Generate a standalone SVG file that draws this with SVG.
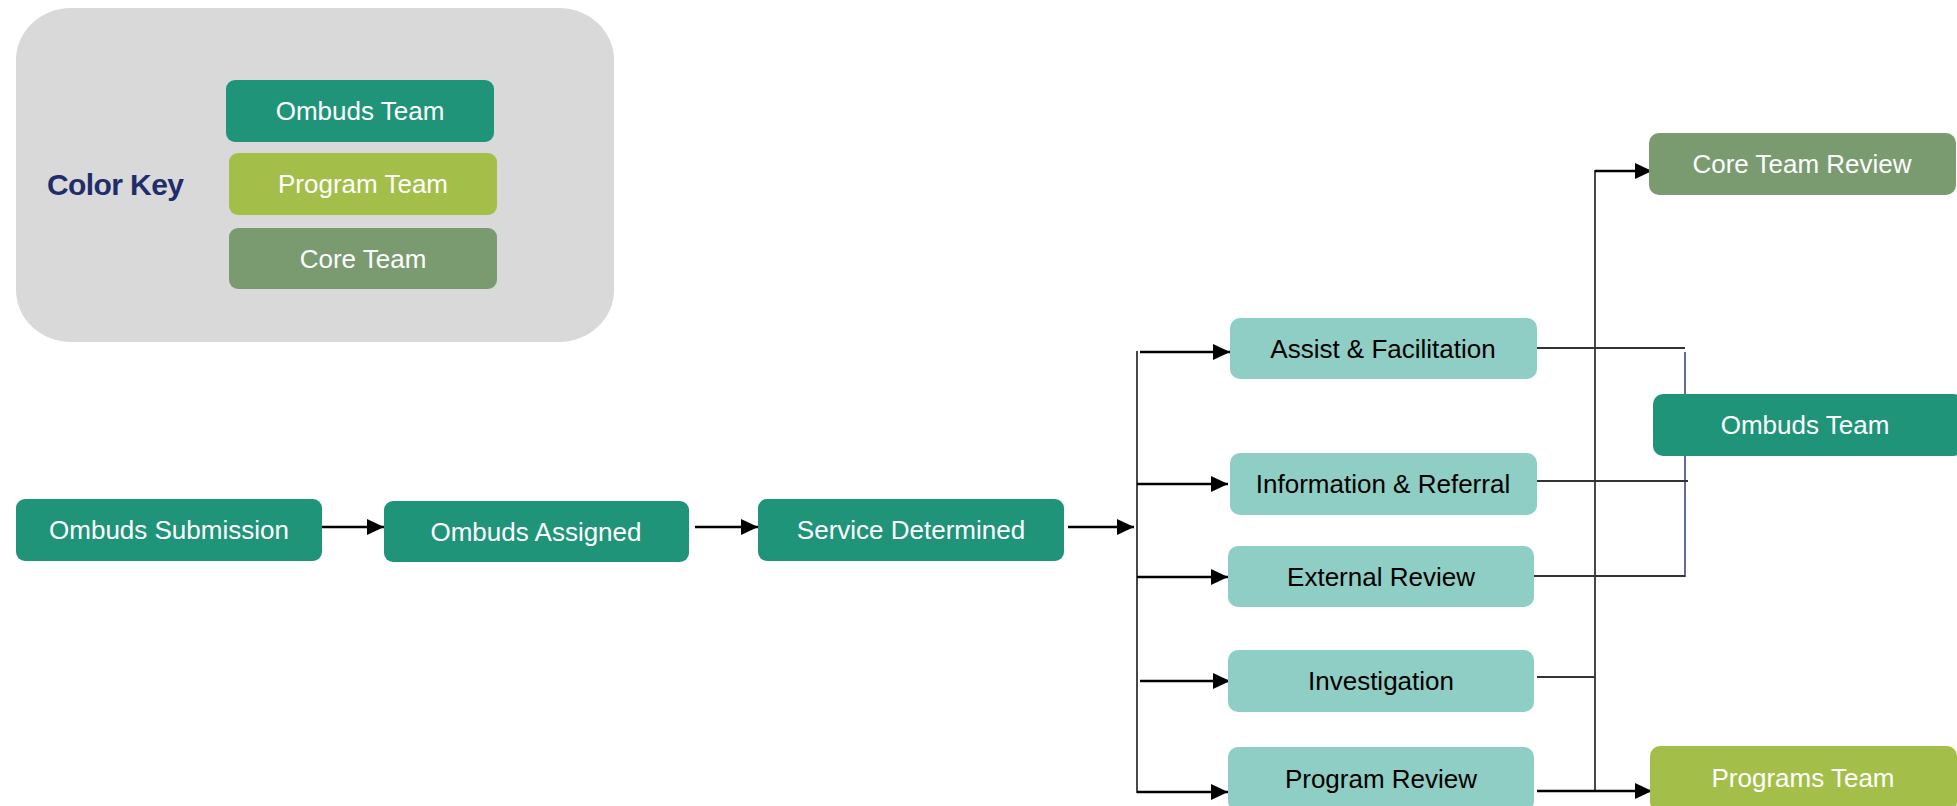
<svg xmlns="http://www.w3.org/2000/svg" width="1957" height="806" viewBox="0 0 1957 806">
<defs>
<marker id="ah" markerUnits="userSpaceOnUse" markerWidth="18" markerHeight="16" refX="17" refY="8" orient="auto"><path d="M0,0 L17,8 L0,16 Z" fill="#000"/></marker>
<style>
.dk{fill:#1F9479}.pg{fill:#A3BF4A}.ct{fill:#7A9B70}.lt{fill:#8ECEC4}
.tw{font-family:"Liberation Sans",Arial,sans-serif;font-size:26px;fill:#fff;text-anchor:middle}
.tb{font-family:"Liberation Sans",Arial,sans-serif;font-size:26px;fill:#000;text-anchor:middle}
.ar{stroke:#000;stroke-width:2.5;fill:none;marker-end:url(#ah)}
.ln{stroke:#333;stroke-width:1.8;fill:none}
.nv{stroke:#2E3A7A;stroke-width:1.5;fill:none}
</style>
</defs>
<g id="color-key">
<rect x="16" y="8" width="598" height="334" rx="55" ry="52" fill="#D9D9D9"/>
<text x="47" y="195" font-family="Liberation Sans,Arial,sans-serif" font-size="30" font-weight="bold" letter-spacing="-0.6" fill="#1F2D6B">Color Key</text>
</g>
<g id="key-ombuds"><rect class="dk" x="226" y="80" width="268" height="62" rx="9"/><text class="tw" x="360" y="120">Ombuds Team</text></g>
<g id="key-program"><rect class="pg" x="229" y="153" width="268" height="62" rx="9"/><text class="tw" x="363" y="193">Program Team</text></g>
<g id="key-core"><rect class="ct" x="229" y="228" width="268" height="61" rx="9"/><text class="tw" x="363" y="268">Core Team</text></g>

<g id="connectors">
<line class="ar" x1="322" y1="527" x2="384" y2="527"/>
<line class="ar" x1="695" y1="527" x2="758" y2="527"/>
<line class="ar" x1="1068" y1="527" x2="1134" y2="527"/>
<line class="ln" x1="1137" y1="351" x2="1137" y2="793"/>
<line class="ar" x1="1140" y1="352" x2="1230" y2="352"/>
<line class="ar" x1="1137" y1="484" x2="1228" y2="484"/>
<line class="ar" x1="1137" y1="577" x2="1228" y2="577"/>
<line class="ar" x1="1140" y1="681" x2="1230" y2="681"/>
<line class="ar" x1="1137" y1="792" x2="1228" y2="792"/>
<line class="ln" x1="1537" y1="348" x2="1685" y2="348"/>
<line class="nv" x1="1685" y1="352" x2="1685" y2="577"/>
<line class="ln" x1="1535" y1="481" x2="1688" y2="481"/>
<line class="ln" x1="1534" y1="576" x2="1685" y2="576"/>
<line class="ln" x1="1537" y1="677" x2="1595" y2="677"/>
<line class="ln" x1="1595" y1="170" x2="1595" y2="791"/>
<line class="ar" x1="1595" y1="171" x2="1652" y2="171"/>
<line class="ar" x1="1537" y1="791" x2="1652" y2="791"/>
</g>

<g id="ombuds-submission"><rect class="dk" x="16" y="499" width="306" height="62" rx="9"/><text class="tw" x="169" y="539">Ombuds Submission</text></g>
<g id="ombuds-assigned"><rect class="dk" x="384" y="501" width="305" height="61" rx="9"/><text class="tw" x="536" y="541">Ombuds Assigned</text></g>
<g id="service-determined"><rect class="dk" x="758" y="499" width="306" height="62" rx="9"/><text class="tw" x="911" y="539">Service Determined</text></g>
<g id="assist"><rect class="lt" x="1230" y="318" width="307" height="61" rx="10"/><text class="tb" x="1383" y="358">Assist &amp; Facilitation</text></g>
<g id="info"><rect class="lt" x="1230" y="453" width="307" height="62" rx="10"/><text class="tb" x="1383" y="493">Information &amp; Referral</text></g>
<g id="external"><rect class="lt" x="1228" y="546" width="306" height="61" rx="10"/><text class="tb" x="1381" y="586">External Review</text></g>
<g id="investigation"><rect class="lt" x="1228" y="650" width="306" height="62" rx="10"/><text class="tb" x="1381" y="690">Investigation</text></g>
<g id="program-review"><rect class="lt" x="1228" y="747" width="306" height="64" rx="10"/><text class="tb" x="1381" y="788">Program Review</text></g>
<g id="core-team-review"><rect class="ct" x="1649" y="133" width="307" height="62" rx="10"/><text class="tw" x="1802" y="173">Core Team Review</text></g>
<g id="ombuds-team"><rect class="dk" x="1653" y="394" width="310" height="62" rx="10"/><text class="tw" x="1805" y="434">Ombuds Team</text></g>
<g id="programs-team"><rect class="pg" x="1650" y="746" width="307" height="66" rx="10"/><text class="tw" x="1803" y="787">Programs Team</text></g>
</svg>
